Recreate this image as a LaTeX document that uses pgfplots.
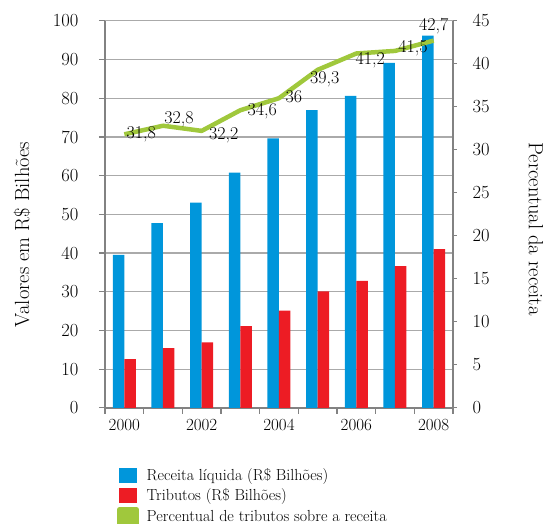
\documentclass[border=0pt]{standalone}
\usepackage{fontspec}
\usepackage{pgfplots}
\pgfplotsset{compat=1.18}
\usepackage{pgfplotstable}
\definecolor{cblue}{RGB}{0,150,219}
\definecolor{cred}{RGB}{237,28,36}
\definecolor{cgreen}{RGB}{160,200,60}
\definecolor{gridc}{RGB}{170,170,170}
\definecolor{axc}{RGB}{130,130,130}

\pgfplotstableread{
x rec trib
0 39.5 12.6
1 47.7 15.4
2 53.0 16.9
3 60.8 21.1
4 69.6 25.1
5 76.9 30.1
6 80.6 32.8
7 89.1 36.6
8 96.2 41.0
}\valores

\pgfplotstableread{
x pct dx dy lab
0 31.8 17 0 31,8
1 32.8 16 6 32,8
2 32.2 22 -4 32,2
3 34.6 22 -1 34,6
4 36.0 15 2 36
5 39.3 7 -9 39,3
6 41.2 14 -7 41,2
7 41.5 18 3 41,5
8 42.7 0 14 42,7
}\percent

\begin{document}
\begin{tikzpicture}
\useasboundingbox (-105pt,-115.2pt) rectangle (441pt,407.8pt);
\begin{axis}[
  scale only axis, width=348pt, height=387pt,
  xmin=-0.5, xmax=8.5, ymin=0, ymax=100,
  ybar=0pt, bar width=11.5pt,
  axis x line*=bottom, axis y line*=left,
  axis line style={axc, line width=1.5pt},
  /pgf/number format/assume math mode=true,
  ytick={0,10,...,100},
  ymajorgrids, grid style={gridc, line width=1.2pt},
  xtick={-0.5,0.5,...,8.5}, xticklabels={},
  extra x ticks={0,2,4,6,8},
  extra x tick labels={2000,2002,2004,2006,2008},
  extra x tick style={major tick length=0pt, grid=none},
  tick align=outside, major tick length=6pt,
  tick style={axc, line width=1.2pt},
  yticklabel style={font=\fontsize{18.5}{20}\selectfont, xshift=-17pt},
  xticklabel style={font=\fontsize{17}{20}\selectfont, yshift=-8pt},
  ylabel={Valores em R\$ Bilhões},
  ylabel style={font=\fontsize{20.5}{24}\selectfont, at={(axis description cs:-0.2385,0.448)}, anchor=center},
]
\addplot[fill=cblue, draw=none] table[x=x,y=rec]{\valores};
\addplot[fill=cred, draw=none] table[x=x,y=trib]{\valores};
\end{axis}
\begin{axis}[
  scale only axis, width=348pt, height=387pt,
  xmin=-0.5, xmax=8.5, ymin=0, ymax=45,
  axis y line*=right, axis x line=none,
  axis line style={axc, line width=1.5pt},
  /pgf/number format/assume math mode=true,
  ytick={0,5,...,45},
  tick align=outside, major tick length=4pt,
  tick style={axc, line width=1.2pt},
  yticklabel style={font=\fontsize{18.5}{20}\selectfont, xshift=12pt},
  ylabel={Percentual da receita},
  ylabel style={font=\fontsize{20.5}{24}\selectfont, at={(axis description cs:1.2385,0.462)}, anchor=center, rotate=180},
  legend style={at={(axis description cs:0.026,-0.145)}, anchor=north west, draw=none, fill=none,
    font=\fontsize{16}{19}\selectfont, row sep=3pt, column sep=6pt, cells={anchor=west}},
  legend cell align=left,
]
\addlegendimage{legend image code/.code={\fill[cblue] (0pt,-7pt) rectangle (17pt,7pt);}}
\addlegendentry{Receita líquida (R\$ Bilhões)}
\addlegendimage{legend image code/.code={\fill[cred] (0pt,-7pt) rectangle (17pt,7pt);}}
\addlegendentry{Tributos (R\$ Bilhões)}
\addplot[cgreen, line width=4.5pt, line join=round, mark=none,
  legend image code/.code={\fill[cgreen] (0pt,-7pt) rectangle (17pt,7pt);},
  nodes near coords, point meta=explicit symbolic,
  visualization depends on={\thisrow{dx}\as\dx},
  visualization depends on={\thisrow{dy}\as\dy},
  every node near coord/.append style={anchor=center, xshift=\dx pt, yshift=\dy pt, text=black,
    font=\fontsize{18}{20}\selectfont}]
  table[x=x,y=pct,meta=lab]{\percent};
\addlegendentry{Percentual de tributos sobre a receita}
\end{axis}
\end{tikzpicture}
\end{document}
